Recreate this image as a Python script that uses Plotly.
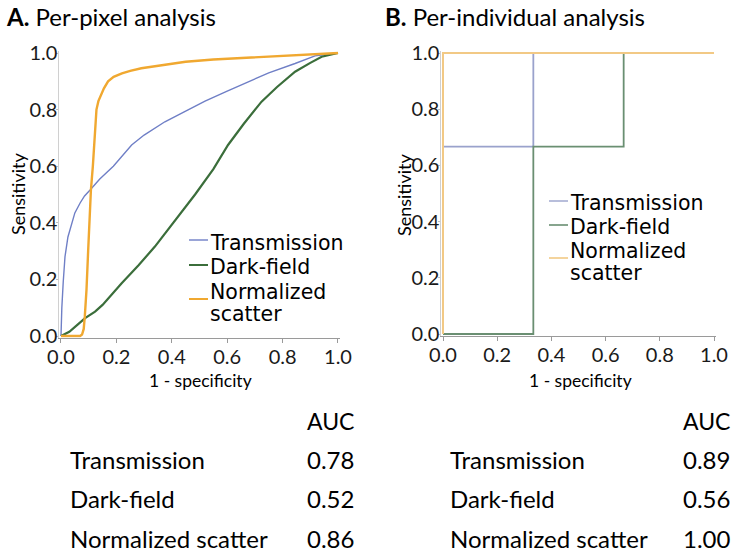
import plotly.graph_objects as go

# ---------------- data ----------------
series_names = ["Transmission", "Dark-field", "Normalized scatter"]

# Panel A: per-pixel ROC curves (1 - specificity, sensitivity)
a_trans_x = [0, 0.001, 0.003, 0.008, 0.0144, 0.025, 0.0385, 0.05, 0.069, 0.085, 0.105, 0.14, 0.189,
             0.255, 0.3, 0.375, 0.45, 0.52, 0.6, 0.664, 0.75, 0.845, 0.917, 1.0]
a_trans_y = [0, 0.05, 0.10, 0.19, 0.28, 0.35, 0.40, 0.435, 0.47, 0.495, 0.516, 0.555, 0.60,
             0.675, 0.71, 0.757, 0.795, 0.83, 0.865, 0.893, 0.93, 0.963, 0.99, 1.0]

a_dark_x = [0, 0.03, 0.06, 0.087, 0.123, 0.15, 0.219, 0.28, 0.339, 0.42, 0.484, 0.55, 0.603,
            0.66, 0.724, 0.78, 0.845, 0.9, 0.941, 1.0]
a_dark_y = [0, 0.015, 0.04, 0.063, 0.086, 0.11, 0.186, 0.25, 0.316, 0.42, 0.50, 0.59, 0.675,
            0.75, 0.828, 0.88, 0.934, 0.965, 0.987, 1.0]

a_norm_x = [0, 0.069, 0.076, 0.082, 0.086, 0.092, 0.098, 0.103, 0.108, 0.115, 0.121, 0.128, 0.135,
            0.144, 0.155, 0.17, 0.19, 0.22, 0.25, 0.29, 0.35, 0.45, 0.55, 0.65, 0.75, 0.85, 0.93, 1.0]
a_norm_y = [0, 0, 0.005, 0.025, 0.07, 0.163, 0.30, 0.40, 0.516, 0.60, 0.70, 0.80, 0.83,
            0.85, 0.875, 0.90, 0.916, 0.928, 0.937, 0.946, 0.955, 0.969, 0.977, 0.982, 0.986, 0.99, 0.994, 1.0]

# Panel B: per-individual ROC steps
b_trans_x = [0, 0, 1/3, 1/3, 1]
b_trans_y = [0, 2/3, 2/3, 1, 1]
b_dark_x = [0, 1/3, 1/3, 2/3, 2/3, 1]
b_dark_y = [0, 0, 2/3, 2/3, 1, 1]
b_norm_x = [0, 0, 1]
b_norm_y = [0, 1, 1]

auc_a = ["0.78", "0.52", "0.86"]
auc_b = ["0.89", "0.56", "1.00"]

tick_vals = [0, 0.2, 0.4, 0.6, 0.8, 1.0]
tick_text = ["0.0", "0.2", "0.4", "0.6", "0.8", "1.0"]

# ---------------- styling / layout ----------------
W, H = 732, 552
def PX(px):
    return px / W
def PY(py):
    return 1 - py / H

A_COL = ["#6f7fc6", "#3b6e3b", "#f0a830"]
A_WID = [1.4, 2.2, 2.4]
B_COL = ["#9aa2cc", "#6a8f72", "#f2c985"]
B_WID = [1.8, 1.8, 2.0]

PAD = 0.006
def domain(p0, p1):
    span = p1 - p0
    return p0 - PAD * span, p1 + PAD * span

fig = go.Figure()

for xs, ys, c, w in zip([a_trans_x, a_dark_x, a_norm_x], [a_trans_y, a_dark_y, a_norm_y], A_COL, A_WID):
    fig.add_trace(go.Scatter(x=xs, y=ys, mode="lines", line=dict(color=c, width=w),
                             xaxis="x", yaxis="y", showlegend=False, hoverinfo="skip"))
for xs, ys, c, w in zip([b_trans_x, b_dark_x, b_norm_x], [b_trans_y, b_dark_y, b_norm_y], B_COL, B_WID):
    fig.add_trace(go.Scatter(x=xs, y=ys, mode="lines", line=dict(color=c, width=w),
                             xaxis="x2", yaxis="y2", showlegend=False, hoverinfo="skip"))

tickfont = dict(family="Lato", size=20, color="#1a1a1a")
rng = [-PAD, 1 + PAD]

ax_x0, ax_x1 = domain(61, 338)
ay_b, ay_t = domain(336, 53)
bx_x0, bx_x1 = domain(443, 714)
by_b, by_t = domain(334, 53)

common_x = dict(range=rng, tickvals=tick_vals, ticktext=tick_text, showgrid=False, zeroline=False,
                showline=True, linecolor="#9a9a9a", linewidth=1, ticks="outside", ticklen=4,
                tickcolor="#9a9a9a", tickfont=tickfont, fixedrange=True, automargin=False,
                ticklabelstandoff=-3)
common_y = dict(range=rng, tickvals=tick_vals, ticktext=tick_text, showgrid=False, zeroline=False,
                showline=True, linecolor="#d0d0d0", linewidth=1, ticks="outside", ticklen=2,
                tickcolor="#c0c0c0", tickfont=tickfont, fixedrange=True, ticklabelstandoff=-5,
                automargin=False)

fig.update_layout(
    template="none",
    width=W, height=H, margin=dict(l=0, r=0, t=0, b=0, pad=0, autoexpand=False),
    paper_bgcolor="white", plot_bgcolor="white",
    xaxis=dict(domain=[PX(ax_x0), PX(ax_x1)], anchor="y", **common_x),
    yaxis=dict(domain=[PY(ay_b), PY(ay_t)], anchor="x", **common_y),
    xaxis2=dict(domain=[PX(bx_x0), PX(bx_x1)], anchor="y2", **common_x),
    yaxis2=dict(domain=[PY(by_b), PY(by_t)], anchor="x2", **common_y),
)

ann = []
def text(x, y, s, size, family="Lato", xanchor="left", angle=0, color="#000"):
    ann.append(dict(x=PX(x), y=PY(y), xref="paper", yref="paper", text=s, showarrow=False,
                    xanchor=xanchor, yanchor="middle", textangle=angle,
                    font=dict(family=family, size=size, color=color)))

# Panel titles
text(4, 16, "<b>A.</b> Per-pixel analysis", 24)
text(383, 16, "<b>B.</b> Per-individual analysis", 24)

# Axis titles
text(18, 194, "Sensitivity", 18, xanchor="center", angle=-90)
text(404, 194, "Sensitivity", 18, xanchor="center", angle=-90)
text(200, 380, "1 - specificity", 17.5, xanchor="center")
text(580, 380, "1 - specificity", 17.5, xanchor="center")

# Legends (drawn as text + short line swatches)
leg_font = "DejaVu Sans"
shapes = []
def swatch(x0, x1, y, color, width):
    shapes.append(dict(type="line", xref="paper", yref="paper", x0=PX(x0), x1=PX(x1),
                       y0=PY(y), y1=PY(y), line=dict(color=color, width=width)))

# Panel A legend
swatch(189, 208, 240, A_COL[0], 1.4)
swatch(189, 208, 265, A_COL[1], 2.0)
swatch(189, 208, 299, A_COL[2], 2.0)
text(208, 243, "Transmission", 20.5, family=leg_font)
text(208, 267, "Dark-field", 20.5, family=leg_font)
text(208, 292, "Normalized", 20.5, family=leg_font)
text(208, 314, "scatter", 20.5, family=leg_font)

# Panel B legend
swatch(549, 568, 201, B_COL[0], 1.4)
swatch(549, 568, 225, B_COL[1], 1.6)
swatch(549, 568, 258, B_COL[2], 1.6)
text(568, 203, "Transmission", 20.5, family=leg_font)
text(568, 227, "Dark-field", 20.5, family=leg_font)
text(568, 251, "Normalized", 20.5, family=leg_font)
text(568, 273, "scatter", 20.5, family=leg_font)

# AUC tables
row_y = [459, 498, 538]
text(305, 421, "AUC", 23)
text(681, 421, "AUC", 23)
for name, va, vb, y in zip(series_names, auc_a, auc_b, row_y):
    text(68, y, name, 24)
    text(305, y, va, 24)
    text(448, y, name, 24)
    text(681, y, vb, 24)

fig.update_layout(annotations=ann, shapes=shapes)
fig.write_html("out.html", config={"displayModeBar": False, "staticPlot": True},
               post_script="document.body.style.margin='0px';document.body.style.overflow='hidden';")
